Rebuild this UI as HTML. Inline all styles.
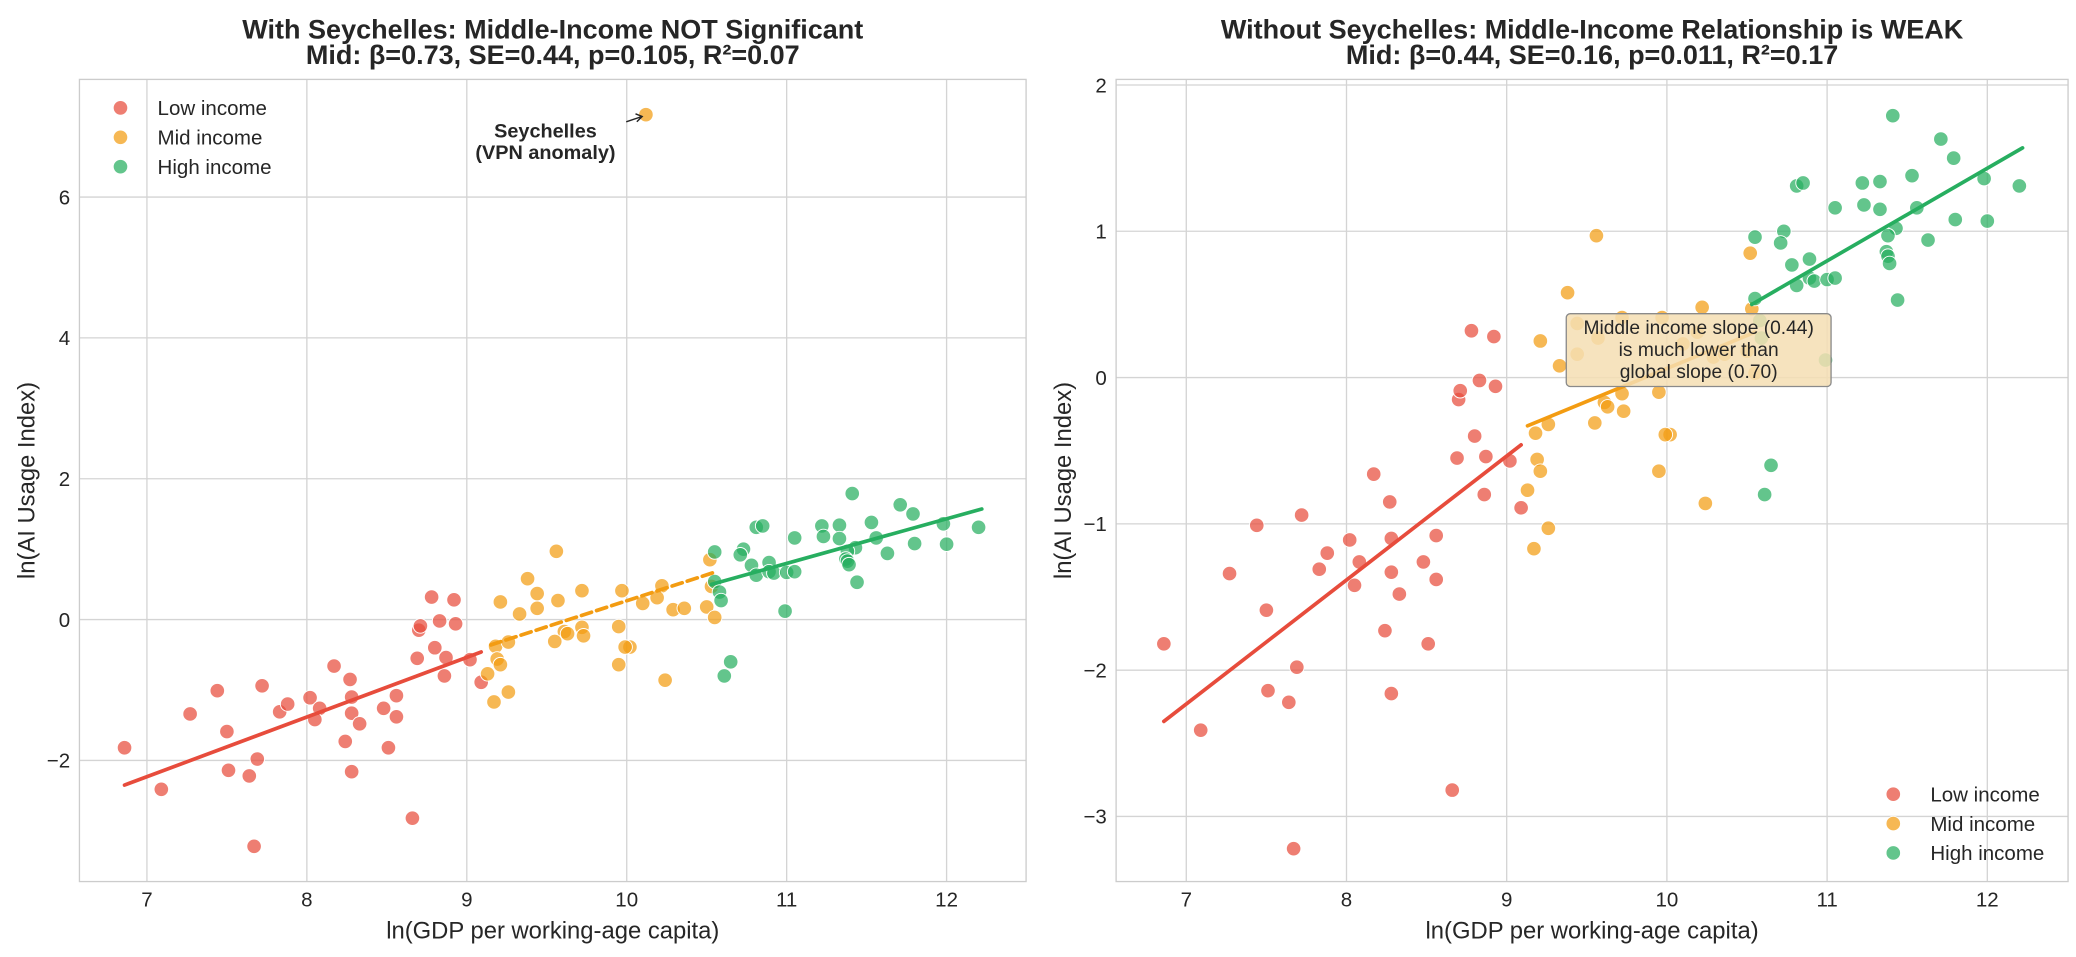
<!DOCTYPE html>
<html><head><meta charset="utf-8"><style>
html,body{margin:0;padding:0;background:#fff}
svg{display:block;font-family:"Liberation Sans","DejaVu Sans",sans-serif}
</style></head><body>
<svg id="chart" width="2076" height="957" viewBox="0 0 1568 723" preserveAspectRatio="none" xmlns="http://www.w3.org/2000/svg">
<rect width="1568" height="723" fill="#fff"/>
<g id="left"></g>
<g id="right"></g>
</svg>
<script>
const lowX=[6.86,7.09,7.27,7.44,7.50,7.51,7.64,7.67,7.69,7.72,7.83,7.88,8.02,8.08,8.05,8.17,8.27,8.28,8.28,8.33,8.24,8.28,8.48,8.56,8.56,8.51,8.66,8.69,8.80,8.87,8.86,9.02,9.09,8.70,8.71,8.83,8.93,8.78,8.92];
const lowY=[-1.82,-2.41,-1.34,-1.01,-1.59,-2.14,-2.22,-3.22,-1.98,-0.94,-1.31,-1.20,-1.11,-1.26,-1.42,-0.66,-0.85,-1.10,-1.33,-1.48,-1.73,-2.16,-1.26,-1.08,-1.38,-1.82,-2.82,-0.55,-0.40,-0.54,-0.80,-0.57,-0.89,-0.15,-0.09,-0.02,-0.06,0.32,0.28];
const midX=[9.38,9.21,9.33,9.44,9.44,9.57,9.72,9.97,10.22,10.10,10.19,10.29,10.36,10.50,10.53,10.55,10.52,9.56,9.61,9.63,9.72,9.73,9.55,9.95,10.02,9.99,9.95,10.24,9.18,9.26,9.19,9.21,9.13,9.26,9.17];
const midY=[0.58,0.25,0.08,0.16,0.37,0.27,0.41,0.41,0.48,0.23,0.31,0.14,0.16,0.18,0.47,0.03,0.85,0.97,-0.17,-0.20,-0.11,-0.23,-0.31,-0.10,-0.39,-0.39,-0.64,-0.86,-0.38,-0.32,-0.56,-0.64,-0.77,-1.03,-1.17];
const highX=[11.41,11.71,11.79,11.53,11.98,12.20,10.81,10.85,11.22,11.33,11.05,11.23,11.33,11.56,11.80,12.00,11.63,11.43,11.38,11.37,11.38,11.39,11.44,10.55,10.73,10.71,10.78,10.89,10.81,10.89,10.92,11.00,11.05,10.55,10.58,10.59,10.99,10.65,10.61];
const highY=[1.79,1.63,1.50,1.38,1.36,1.31,1.31,1.33,1.33,1.34,1.16,1.18,1.15,1.16,1.08,1.07,0.94,1.02,0.97,0.86,0.83,0.78,0.53,0.96,1.00,0.92,0.77,0.81,0.63,0.68,0.66,0.67,0.68,0.54,0.39,0.27,0.12,-0.60,-0.80];
const seyX=[10.12];
const seyY=[7.17];
const fitLowX=[6.86,9.09], fitLowY=[-2.35,-0.46];
const fitMidX=[9.13,10.55], fitMidY=[-0.33,0.31];
const fitMidAllX=[9.15,10.56], fitMidAllY=[-0.36,0.68];
const fitHighX=[10.53,12.22], fitHighY=[0.50,1.57];
const xTicks=[7,8,9,10,11,12];
const leftYTicks=[-2,0,2,4,6];
const rightYTicks=[-3,-2,-1,0,1,2];
const COL={low:'#e74c3c',mid:'#f39c12',high:'#27ae60'};
const NS='http://www.w3.org/2000/svg';
function mk(parent,tag,attrs,text){const e=document.createElementNS(NS,tag);for(const k in attrs)e.setAttribute(k,attrs[k]);if(text!==undefined)e.textContent=text;parent.appendChild(e);return e;}

function panel(g,cfg){
  const {x0,x1,y0,y1,xmin,xmax,ymin,ymax}=cfg;
  const sx=v=>x0+(v-xmin)/(xmax-xmin)*(x1-x0);
  const sy=v=>y1-(v-ymin)/(ymax-ymin)*(y1-y0);
  const grid=mk(g,'g',{});
  
  
  xTicks.forEach(t=>{
    mk(grid,'line',{x1:sx(t),x2:sx(t),y1:y0,y2:y1,stroke:'#d4d4d4','stroke-width':1});
    const tl=mk(g,'text',{x:sx(t),y:y1+19,'text-anchor':'middle','font-size':15.5,fill:'#262626'},String(t));
    
    
  });
  cfg.yt.forEach(t=>{
    mk(grid,'line',{x1:x0,x2:x1,y1:sy(t),y2:sy(t),stroke:'#d4d4d4','stroke-width':1});
    const tl=mk(g,'text',{x:x0-7,y:sy(t)+5.5,'text-anchor':'end','font-size':15.5,fill:'#262626'},t<0?'\u2212'+(-t):String(t));
    
    
  });
  const fr=mk(g,'rect',{x:x0,y:y0,width:x1-x0,height:y1-y0,fill:'none',stroke:'#cccccc','stroke-width':1});
  
  
  const series=[['low',lowX,lowY],['mid',midX,midY],['high',highX,highY]];
  series.forEach(([k,xs,ys])=>{
    const sg=mk(g,'g',{});
    
    
    xs.forEach((v,i)=>{
      const c=mk(sg,'circle',{cx:sx(v),cy:sy(ys[i]),r:5.5,fill:COL[k],'fill-opacity':0.72,stroke:'#fff','stroke-width':0.7});
      
      
    });
  });
  if(cfg.sey){
    seyX.forEach((v,i)=>{
      const c=mk(g,'circle',{cx:sx(v),cy:sy(seyY[i]),r:5.5,fill:COL.mid,'fill-opacity':0.72,stroke:'#fff','stroke-width':0.7});
      
      
    });
  }
  const fits=[['low',fitLowX,fitLowY,null],cfg.sey?['mid',fitMidAllX,fitMidAllY,'8,4']:['mid',fitMidX,fitMidY,null],['high',fitHighX,fitHighY,null]];
  fits.forEach(([k,xs,ys,d])=>{
    const l=mk(g,'line',{x1:sx(xs[0]),y1:sy(ys[0]),x2:sx(xs[1]),y2:sy(ys[1]),stroke:COL[k],'stroke-width':2.8,'stroke-linecap':'round'});
    if(d)l.setAttribute('stroke-dasharray',d);
    
    
  });
  const cx=(x0+x1)/2;
  const t1=mk(g,'text',{x:cx,y:29,'text-anchor':'middle','font-size':20.4,'font-weight':'bold',fill:'#262626'},cfg.title1);
  
  
  const t2=mk(g,'text',{x:cx,y:48.5,'text-anchor':'middle','font-size':20.4,'font-weight':'bold',fill:'#262626'},cfg.title2);
  
  
  const xl=mk(g,'text',{x:cx,y:709,'text-anchor':'middle','font-size':18,fill:'#262626'},'ln(GDP per working-age capita)');
  
  
  const yx=x0-34, yc=(y0+y1)/2;
  const yl=mk(g,'text',{x:yx,y:yc,'text-anchor':'middle','font-size':18,fill:'#262626',transform:`rotate(-90 ${yx} ${yc})`},'ln(AI Usage Index)');
  
  
  const lg=mk(g,'g',{});
  
  
  [['low','Low income'],['mid','Mid income'],['high','High income']].forEach(([k,lab],i)=>{
    const yy=cfg.leg[1]+i*22.2;
    const c=mk(lg,'circle',{cx:cfg.leg[0],cy:yy,r:5.5,fill:COL[k],'fill-opacity':0.72,stroke:'#fff','stroke-width':0.7});
    
    
    const t=mk(lg,'text',{x:cfg.leg[0]+28,y:yy+5.5,'font-size':15.5,fill:'#262626'},lab);
    
    
  });
  return {sx,sy};
}
const L=panel(document.getElementById('left'),{x0:60,x1:775,y0:60,y1:666,xmin:6.578,xmax:12.497,ymin:-3.72,ymax:7.67,yt:leftYTicks,sey:true,
  title1:'With Seychelles: Middle-Income NOT Significant',title2:'Mid: \u03b2=0.73, SE=0.44, p=0.105, R\u00b2=0.07',leg:[91,81.5]});
const R=panel(document.getElementById('right'),{x0:843,x1:1562,y0:60,y1:666,xmin:6.562,xmax:12.504,ymin:-3.445,ymax:2.038,yt:rightYTicks,sey:false,
  title1:'Without Seychelles: Middle-Income Relationship is WEAK',title2:'Mid: \u03b2=0.44, SE=0.16, p=0.011, R\u00b2=0.17',leg:[1430,600]});
const lg=document.getElementById('left');
const a1=mk(lg,'text',{x:412,y:104,'text-anchor':'middle','font-size':15,'font-weight':'bold',fill:'#262626'},'Seychelles');


const a2=mk(lg,'text',{x:412,y:120,'text-anchor':'middle','font-size':15,'font-weight':'bold',fill:'#262626'},'(VPN anomaly)');


const ar=mk(lg,'path',{d:'M473,92 L485,88 M480,86 L485,88 L481,92',stroke:'#262626','stroke-width':1.1,fill:'none'});


const rg=document.getElementById('right');
const bx=mk(rg,'rect',{x:1183,y:237,width:200,height:55,rx:3,fill:'#f5deb3','fill-opacity':0.85,stroke:'#8a8a8a','stroke-width':1});


['Middle income slope (0.44)','is much lower than','global slope (0.70)'].forEach((s,i)=>{
  const t=mk(rg,'text',{x:1283,y:252.5+i*16.5,'text-anchor':'middle','font-size':14.5,fill:'#262626'},s);
  
  
});
</script>
</body></html>
